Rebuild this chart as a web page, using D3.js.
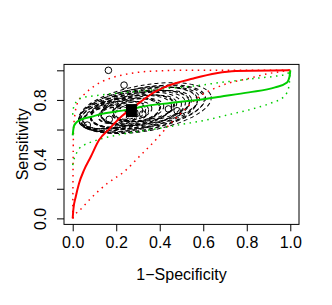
<!DOCTYPE html>
<html>
<head>
<meta charset="utf-8">
<title>SROC</title>
<script src="https://d3js.org/d3.v7.min.js"></script>
<style>
  body { margin: 0; background: #fff; }
  text { font-family: "Liberation Sans", Arial, sans-serif; font-size: 16px; fill: #000; }
</style>
</head>
<body>
<div id="chart"></div>
<script>
// axis ticks
var xTicks = [0, 0.2, 0.4, 0.6, 0.8, 1];
var yTicks = [0, 0.2, 0.4, 0.6, 0.8, 1];
var yTickLabels = ["0.0", "", "0.4", "", "0.8", ""];

// SROC curves (fpr, sens)
var redFit = [[0,0],[0.003,0.06],[0.014,0.146],[0.029,0.236],[0.052,0.326],[0.083,0.416],
  [0.121,0.529],[0.172,0.61],[0.218,0.68],[0.27,0.742],[0.31,0.785],[0.356,0.835],
  [0.433,0.893],[0.555,0.945],[0.66,0.98],[0.75,0.995],[1,1]];
var redUpper = [[0,0],[0.001,0.2],[0.002,0.4],[0.004,0.6],[0.01,0.7],[0.025,0.79],
  [0.055,0.84],[0.1,0.895],[0.17,0.945],[0.25,0.975],[0.35,0.993],[0.5,1],[1,1]];
var redLower = [[0,0],[0.013,0.03],[0.03,0.052],[0.083,0.135],[0.159,0.236],[0.236,0.315],
  [0.313,0.428],[0.374,0.518],[0.433,0.615],[0.509,0.727],[0.586,0.828],[0.647,0.875],
  [0.709,0.91],[0.808,0.945],[0.9,0.978],[1,1]];
var greenFit = [[0,0.56],[0.005,0.62],[0.015,0.645],[0.03,0.662],[0.09,0.688],[0.126,0.703],
  [0.2,0.722],[0.27,0.738],[0.31,0.752],[0.45,0.78],[0.6,0.805],[0.678,0.822],[0.81,0.851],
  [0.93,0.885],[0.985,0.918],[0.996,0.955],[1,1]];
var greenUpper = [[0,0.7],[0.003,0.743],[0.018,0.79],[0.044,0.815],[0.095,0.827],[0.18,0.842],
  [0.25,0.852],[0.33,0.862],[0.4,0.873],[0.51,0.887],[0.6,0.902],[0.68,0.918],[0.75,0.93],
  [0.84,0.946],[0.93,0.96],[0.985,0.975],[1,1]];
var greenLower = [[0,0.36],[0.006,0.4],[0.014,0.43],[0.029,0.47],[0.052,0.495],[0.09,0.518],
  [0.15,0.545],[0.25,0.574],[0.4,0.608],[0.51,0.637],[0.6,0.66],[0.71,0.698],[0.84,0.745],
  [0.92,0.784],[0.969,0.82],[0.99,0.87],[0.996,0.92],[1,1]];

// study points
var studyFpr  = [0.164, 0.236, 0.44, 0.48, 0.067, 0.322, 0.168];
var studySens = [1.0,   0.90,  0.739, 0.727, 0.63, 0.705, 0.669];

// summary point
var summary = [0.27, 0.728];

// confidence ellipses: centre, half length along major axis (fpr units), half width (sens units)
var ellFpr  = [0.333, 0.319, 0.300, 0.347, 0.282, 0.328, 0.264, 0.356, 0.300, 0.245, 0.333, 0.273, 0.218,
               0.365, 0.300, 0.241, 0.199, 0.333, 0.268, 0.173, 0.300, 0.227, 0.150, 0.273, 0.195, 0.259];
var ellSens = [0.745, 0.739, 0.732, 0.752, 0.725, 0.745, 0.718, 0.759, 0.732, 0.712, 0.745, 0.725, 0.705,
               0.759, 0.732, 0.712, 0.698, 0.745, 0.725, 0.685, 0.732, 0.712, 0.678, 0.725, 0.698, 0.718];
var ellLen  = [0.308, 0.290, 0.276, 0.267, 0.258, 0.249, 0.239, 0.230, 0.221, 0.212, 0.207, 0.193, 0.184,
               0.184, 0.170, 0.161, 0.152, 0.147, 0.138, 0.129, 0.120, 0.110, 0.101, 0.092, 0.078, 0.064];
var ellWid  = [0.155, 0.142, 0.142, 0.135, 0.128, 0.128, 0.122, 0.115, 0.115, 0.108, 0.108, 0.101, 0.101,
               0.095, 0.095, 0.088, 0.088, 0.081, 0.081, 0.074, 0.074, 0.068, 0.068, 0.061, 0.054, 0.047];

var W = 332, H = 305;
var svg = d3.select("#chart").append("svg").attr("width", W).attr("height", H);

var x = d3.scaleLinear().domain([-0.04, 1.04]).range([64, 299]);
var y = d3.scaleLinear().domain([-0.04, 1.04]).range([224.3, 64.4]);

// clip to plot region
svg.append("clipPath").attr("id", "plotclip").append("rect")
  .attr("x", 64).attr("y", 64.4).attr("width", 235).attr("height", 160);
var plot = svg.append("g").attr("clip-path", "url(#plotclip)");

// ellipses
var tilt = -10;
plot.selectAll("ellipse.ci")
  .data(ellFpr)
  .enter()
  .append("ellipse")
  .attr("class", "ci")
  .attr("cx", 0).attr("cy", 0)
  .attr("rx", (d, i) => x(d + ellLen[i]) - x(d))
  .attr("ry", (d, i) => y(ellSens[i] - ellWid[i]) - y(ellSens[i]))
  .attr("transform", (d, i) => "translate(" + x(d) + "," + y(ellSens[i]) + ") rotate(" + tilt + ")")
  .attr("fill", "none")
  .attr("stroke", "#000")
  .attr("stroke-width", 1)
  .attr("stroke-dasharray", "4,3");

var line = d3.line().x(d => x(d[0])).y(d => y(d[1])).curve(d3.curveMonotoneX);

function dotted(data, col) {
  plot.append("path").datum(data).attr("d", line)
    .attr("fill", "none").attr("stroke", col)
    .attr("stroke-width", 1.5).attr("stroke-dasharray", "1.5,4.5");
}
dotted(redUpper, "#ff0000");
dotted(redLower, "#ff0000");
dotted(greenUpper, "#00cd00");
dotted(greenLower, "#00cd00");

plot.append("path").datum(redFit).attr("d", line)
  .attr("fill", "none").attr("stroke", "#ff0000").attr("stroke-width", 2);
plot.append("path").datum(greenFit).attr("d", line)
  .attr("fill", "none").attr("stroke", "#00cd00").attr("stroke-width", 2);

// study points
plot.selectAll("circle.study")
  .data(studyFpr)
  .enter()
  .append("circle")
  .attr("class", "study")
  .attr("cx", d => x(d))
  .attr("cy", (d, i) => y(studySens[i]))
  .attr("r", 3.3)
  .attr("fill", "none")
  .attr("stroke", "#000")
  .attr("stroke-width", 1);

// summary point
plot.append("rect")
  .attr("x", x(summary[0]) - 5.5).attr("y", y(summary[1]) - 6.5)
  .attr("width", 11).attr("height", 13)
  .attr("fill", "#000");

// box
svg.append("rect").attr("x", 64).attr("y", 64.4).attr("width", 235).attr("height", 160)
  .attr("fill", "none").attr("stroke", "#000").attr("stroke-width", 1);

// x axis
var xAxis = svg.append("g").attr("transform", "translate(0,224.3)")
  .call(d3.axisBottom(x).tickValues(xTicks).tickFormat(d3.format(".1f")).tickSize(7).tickPadding(5).tickSizeOuter(0));
xAxis.select(".domain").remove();
xAxis.selectAll("text").attr("font-size", null).attr("font-family", null);
xAxis.selectAll("line").attr("stroke", "#000");

// y axis
var yAxis = svg.append("g").attr("transform", "translate(64,0)")
  .call(d3.axisLeft(y).tickValues(yTicks).tickFormat((d, i) => yTickLabels[i]).tickSize(7).tickSizeOuter(0));
yAxis.select(".domain").remove();
yAxis.selectAll("line").attr("stroke", "#000");
yAxis.selectAll("text")
  .attr("font-size", null).attr("font-family", null)
  .attr("x", null).attr("dy", null)
  .attr("text-anchor", "middle")
  .attr("transform", "translate(-18.5,0) rotate(-90)");

// axis titles
svg.append("text").attr("x", (64 + 299) / 2).attr("y", 280)
  .attr("text-anchor", "middle").text("1\u2212Specificity");
svg.append("text").attr("transform", "translate(27.5," + (64.4 + 224.3) / 2 + ") rotate(-90)")
  .attr("text-anchor", "middle").text("Sensitivity");
</script>
</body>
</html>
